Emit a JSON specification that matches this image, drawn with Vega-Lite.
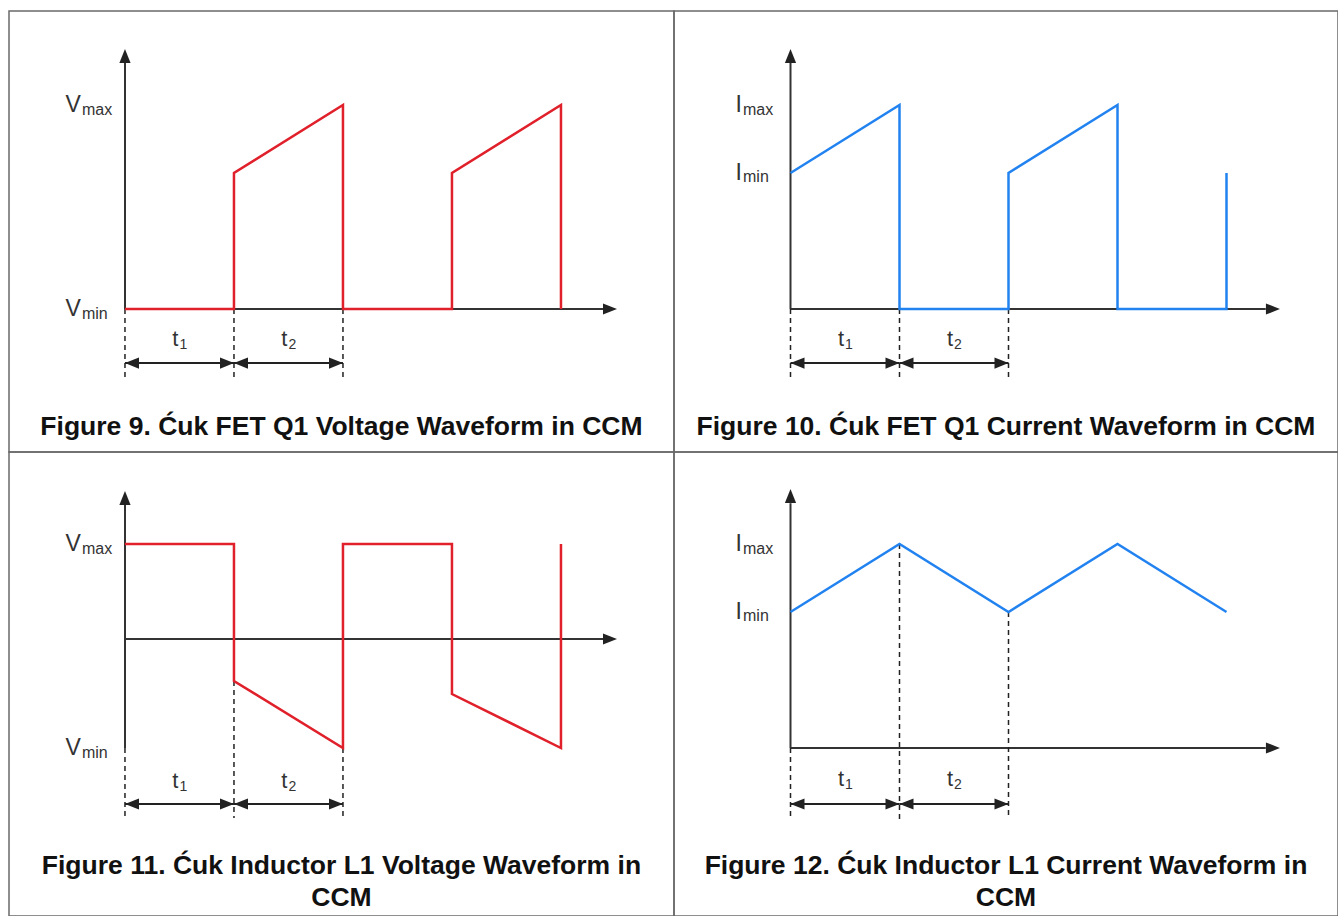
{
  "$schema": "https://vega.github.io/schema/vega-lite/v6.json",
  "padding": {"left": 8, "top": 10, "right": 0, "bottom": 0},
  "background": "white",
  "config": {"view": {"stroke": "#6a6a6a", "strokeWidth": 1.5}, "text": {"font": "Liberation Sans"}},
  "columns": 2,
  "spacing": 0,
  "bounds": "flush",
  "concat": [
        {
          "width": 665, "height": 441,
          "encoding": {
            "x": {"field": "t", "type": "quantitative", "axis": null, "scale": {"domain": [-1.064, 5.037], "nice": false, "zero": false}},
            "y": {"field": "v", "type": "quantitative", "axis": null, "scale": {"domain": [-0.701, 1.461], "nice": false, "zero": false}}
          },
          "layer": [
            {"data": {"values": [{"t": 0, "v": 0, "t2": 0, "v2": 1.21}, {"t": 0, "v": 0, "t2": 4.4, "v2": 0}]},
             "mark": {"type": "rule", "color": "#333333", "strokeWidth": 2},
             "encoding": {"x2": {"field": "t2"}, "y2": {"field": "v2"}}},
            {"data": {"values": [{"t": 0, "v": 0, "v2": -0.343}, {"t": 1, "v": 0, "v2": -0.343}, {"t": 2, "v": 0, "v2": -0.343}]},
             "mark": {"type": "rule", "color": "#222222", "strokeWidth": 1.5, "strokeDash": [5, 4]},
             "encoding": {"y2": {"field": "v2"}}},
            {"data": {"values": [{"t": 0, "t2": 1, "v": -0.265}, {"t": 1, "t2": 2, "v": -0.265}]},
             "mark": {"type": "rule", "color": "#222222", "strokeWidth": 2},
             "encoding": {"x2": {"field": "t2"}}},
            {"data": {"values": [{"t": 0, "v": 1.275}]},
             "mark": {"type": "point", "shape": "M0,0L-0.4,1L0.4,1Z", "size": 784, "filled": true, "opacity": 1, "color": "#222222", "strokeWidth": 0}},
            {"data": {"values": [{"t": 4.514, "v": 0}, {"t": 1, "v": -0.265}, {"t": 2, "v": -0.265}]},
             "mark": {"type": "point", "shape": "M0,0L-1,-0.4L-1,0.4Z", "size": 784, "filled": true, "opacity": 1, "color": "#222222", "strokeWidth": 0}},
            {"data": {"values": [{"t": 0, "v": -0.265}, {"t": 1, "v": -0.265}]},
             "mark": {"type": "point", "shape": "M0,0L1,-0.4L1,0.4Z", "size": 784, "filled": true, "opacity": 1, "color": "#222222", "strokeWidth": 0}},
            {"data": {"values": [{"t": 0, "v": -0.181, "lab": "t", "sub": "1"}, {"t": 1, "v": -0.181, "lab": "t", "sub": "2"}]},
             "layer": [
               {"mark": {"type": "text", "align": "right", "baseline": "alphabetic", "dx": 53.5, "fontSize": 22, "color": "#333333"}, "encoding": {"text": {"field": "lab"}}},
               {"mark": {"type": "text", "align": "left", "baseline": "alphabetic", "dx": 54.5, "dy": 3, "fontSize": 14, "color": "#333333"}, "encoding": {"text": {"field": "sub"}}}
             ]},
            {"data": {"values": [
              {"i": 0, "t": 0, "v": 0}, {"i": 1, "t": 1, "v": 0}, {"i": 2, "t": 1, "v": 0.667}, {"i": 3, "t": 2, "v": 1}, {"i": 4, "t": 2, "v": 0},
              {"i": 5, "t": 3, "v": 0}, {"i": 6, "t": 3, "v": 0.667}, {"i": 7, "t": 4, "v": 1}, {"i": 8, "t": 4, "v": 0}]},
             "mark": {"type": "line", "color": "#e0202a", "strokeWidth": 2.5},
             "encoding": {"order": {"field": "i"}}},
            {"data": {"values": [{"t": -0.404, "v": 1, "lab": "V", "sub": "max"}, {"t": -0.404, "v": 0, "lab": "V", "sub": "min"}]},
             "layer": [
               {"mark": {"type": "text", "align": "right", "baseline": "alphabetic", "dy": 7, "fontSize": 23, "color": "#333333"}, "encoding": {"text": {"field": "lab"}}},
               {"mark": {"type": "text", "align": "left", "baseline": "alphabetic", "dx": 1, "dy": 9.5, "fontSize": 16, "color": "#333333"}, "encoding": {"text": {"field": "sub"}}}
             ]},
            {"data": {"values": [{"t": 1.986, "v": -0.6176, "cap": "Figure 9. Ćuk FET Q1 Voltage Waveform in CCM"}]},
             "mark": {"type": "text", "align": "center", "baseline": "alphabetic", "fontSize": 26.5, "fontWeight": "bold", "color": "#111111"},
             "encoding": {"text": {"field": "cap"}}}
          ]
        },
        {
          "width": 664, "height": 441,
          "encoding": {
            "x": {"field": "t", "type": "quantitative", "axis": null, "scale": {"domain": [-1.0688, 5.0229], "nice": false, "zero": false}},
            "y": {"field": "v", "type": "quantitative", "axis": null, "scale": {"domain": [-0.701, 1.461], "nice": false, "zero": false}}
          },
          "layer": [
            {"data": {"values": [{"t": 0, "v": 0, "t2": 0, "v2": 1.21}, {"t": 0, "v": 0, "t2": 4.36, "v2": 0}]},
             "mark": {"type": "rule", "color": "#333333", "strokeWidth": 2},
             "encoding": {"x2": {"field": "t2"}, "y2": {"field": "v2"}}},
            {"data": {"values": [{"t": 0, "v": 0, "v2": -0.343}, {"t": 1, "v": 0, "v2": -0.343}, {"t": 2, "v": 0, "v2": -0.343}]},
             "mark": {"type": "rule", "color": "#222222", "strokeWidth": 1.5, "strokeDash": [5, 4]},
             "encoding": {"y2": {"field": "v2"}}},
            {"data": {"values": [{"t": 0, "t2": 1, "v": -0.265}, {"t": 1, "t2": 2, "v": -0.265}]},
             "mark": {"type": "rule", "color": "#222222", "strokeWidth": 2},
             "encoding": {"x2": {"field": "t2"}}},
            {"data": {"values": [{"t": 0, "v": 1.275}]},
             "mark": {"type": "point", "shape": "M0,0L-0.4,1L0.4,1Z", "size": 784, "filled": true, "opacity": 1, "color": "#222222", "strokeWidth": 0}},
            {"data": {"values": [{"t": 4.49, "v": 0}, {"t": 1, "v": -0.265}, {"t": 2, "v": -0.265}]},
             "mark": {"type": "point", "shape": "M0,0L-1,-0.4L-1,0.4Z", "size": 784, "filled": true, "opacity": 1, "color": "#222222", "strokeWidth": 0}},
            {"data": {"values": [{"t": 0, "v": -0.265}, {"t": 1, "v": -0.265}]},
             "mark": {"type": "point", "shape": "M0,0L1,-0.4L1,0.4Z", "size": 784, "filled": true, "opacity": 1, "color": "#222222", "strokeWidth": 0}},
            {"data": {"values": [{"t": 0, "v": -0.181, "lab": "t", "sub": "1"}, {"t": 1, "v": -0.181, "lab": "t", "sub": "2"}]},
             "layer": [
               {"mark": {"type": "text", "align": "right", "baseline": "alphabetic", "dx": 53.5, "fontSize": 22, "color": "#333333"}, "encoding": {"text": {"field": "lab"}}},
               {"mark": {"type": "text", "align": "left", "baseline": "alphabetic", "dx": 54.5, "dy": 3, "fontSize": 14, "color": "#333333"}, "encoding": {"text": {"field": "sub"}}}
             ]},
            {"data": {"values": [
              {"i": 0, "t": 0, "v": 0.667}, {"i": 1, "t": 1, "v": 1}, {"i": 2, "t": 1, "v": 0}, {"i": 3, "t": 2, "v": 0}, {"i": 4, "t": 2, "v": 0.667},
              {"i": 5, "t": 3, "v": 1}, {"i": 6, "t": 3, "v": 0}, {"i": 7, "t": 4, "v": 0}, {"i": 8, "t": 4, "v": 0.667}]},
             "mark": {"type": "line", "color": "#2283f0", "strokeWidth": 2.5},
             "encoding": {"order": {"field": "i"}}},
            {"data": {"values": [{"t": -0.445, "v": 1, "lab": "I", "sub": "max"}, {"t": -0.445, "v": 0.667, "lab": "I", "sub": "min"}]},
             "layer": [
               {"mark": {"type": "text", "align": "right", "baseline": "alphabetic", "dy": 7, "fontSize": 23, "color": "#333333"}, "encoding": {"text": {"field": "lab"}}},
               {"mark": {"type": "text", "align": "left", "baseline": "alphabetic", "dx": 1, "dy": 9.5, "fontSize": 16, "color": "#333333"}, "encoding": {"text": {"field": "sub"}}}
             ]},
            {"data": {"values": [{"t": 1.977, "v": -0.6176, "cap": "Figure 10. Ćuk FET Q1 Current Waveform in CCM"}]},
             "mark": {"type": "text", "align": "center", "baseline": "alphabetic", "fontSize": 26.5, "fontWeight": "bold", "color": "#111111"},
             "encoding": {"text": {"field": "cap"}}}
          ]
        },
        {
          "width": 665, "height": 464,
          "encoding": {
            "x": {"field": "t", "type": "quantitative", "axis": null, "scale": {"domain": [-1.064, 5.037], "nice": false, "zero": false}},
            "y": {"field": "v", "type": "quantitative", "axis": null, "scale": {"domain": [-2.77, 1.87], "nice": false, "zero": false}}
          },
          "layer": [
            {"data": {"values": [{"t": 0, "v": -1.09, "t2": 0, "v2": 1.34}, {"t": 0, "v": 0, "t2": 4.4, "v2": 0}]},
             "mark": {"type": "rule", "color": "#333333", "strokeWidth": 2},
             "encoding": {"x2": {"field": "t2"}, "y2": {"field": "v2"}}},
            {"data": {"values": [{"t": 0, "v": -1.09, "v2": -1.79}, {"t": 1, "v": -0.42, "v2": -1.79}, {"t": 2, "v": -1.09, "v2": -1.79}]},
             "mark": {"type": "rule", "color": "#222222", "strokeWidth": 1.5, "strokeDash": [5, 4]},
             "encoding": {"y2": {"field": "v2"}}},
            {"data": {"values": [{"t": 0, "t2": 1, "v": -1.65}, {"t": 1, "t2": 2, "v": -1.65}]},
             "mark": {"type": "rule", "color": "#222222", "strokeWidth": 2},
             "encoding": {"x2": {"field": "t2"}}},
            {"data": {"values": [{"t": 0, "v": 1.48}]},
             "mark": {"type": "point", "shape": "M0,0L-0.4,1L0.4,1Z", "size": 784, "filled": true, "opacity": 1, "color": "#222222", "strokeWidth": 0}},
            {"data": {"values": [{"t": 4.514, "v": 0}, {"t": 1, "v": -1.65}, {"t": 2, "v": -1.65}]},
             "mark": {"type": "point", "shape": "M0,0L-1,-0.4L-1,0.4Z", "size": 784, "filled": true, "opacity": 1, "color": "#222222", "strokeWidth": 0}},
            {"data": {"values": [{"t": 0, "v": -1.65}, {"t": 1, "v": -1.65}]},
             "mark": {"type": "point", "shape": "M0,0L1,-0.4L1,0.4Z", "size": 784, "filled": true, "opacity": 1, "color": "#222222", "strokeWidth": 0}},
            {"data": {"values": [{"t": 0, "v": -1.49, "lab": "t", "sub": "1"}, {"t": 1, "v": -1.49, "lab": "t", "sub": "2"}]},
             "layer": [
               {"mark": {"type": "text", "align": "right", "baseline": "alphabetic", "dx": 53.5, "fontSize": 22, "color": "#333333"}, "encoding": {"text": {"field": "lab"}}},
               {"mark": {"type": "text", "align": "left", "baseline": "alphabetic", "dx": 54.5, "dy": 3, "fontSize": 14, "color": "#333333"}, "encoding": {"text": {"field": "sub"}}}
             ]},
            {"data": {"values": [
              {"i": 0, "t": 0, "v": 0.95}, {"i": 1, "t": 1, "v": 0.95}, {"i": 2, "t": 1, "v": -0.42}, {"i": 3, "t": 2, "v": -1.09}, {"i": 4, "t": 2, "v": 0.95},
              {"i": 5, "t": 3, "v": 0.95}, {"i": 6, "t": 3, "v": -0.55}, {"i": 7, "t": 4, "v": -1.09}, {"i": 8, "t": 4, "v": 0.95}]},
             "mark": {"type": "line", "color": "#e0202a", "strokeWidth": 2.5},
             "encoding": {"order": {"field": "i"}}},
            {"data": {"values": [{"t": -0.404, "v": 0.95, "lab": "V", "sub": "max"}, {"t": -0.404, "v": -1.09, "lab": "V", "sub": "min"}]},
             "layer": [
               {"mark": {"type": "text", "align": "right", "baseline": "alphabetic", "dy": 7, "fontSize": 23, "color": "#333333"}, "encoding": {"text": {"field": "lab"}}},
               {"mark": {"type": "text", "align": "left", "baseline": "alphabetic", "dx": 1, "dy": 9.5, "fontSize": 16, "color": "#333333"}, "encoding": {"text": {"field": "sub"}}}
             ]},
            {"data": {"values": [{"t": 1.986, "v": -2.35, "cap": ["Figure 11. Ćuk Inductor L1 Voltage Waveform in", "CCM"]}]},
             "mark": {"type": "text", "align": "center", "baseline": "alphabetic", "fontSize": 26.5, "lineHeight": 32, "fontWeight": "bold", "color": "#111111"},
             "encoding": {"text": {"field": "cap"}}}
          ]
        },
        {
          "width": 664, "height": 464,
          "encoding": {
            "x": {"field": "t", "type": "quantitative", "axis": null, "scale": {"domain": [-1.0688, 5.0229], "nice": false, "zero": false}},
            "y": {"field": "v", "type": "quantitative", "axis": null, "scale": {"domain": [-0.8235, 1.451], "nice": false, "zero": false}}
          },
          "layer": [
            {"data": {"values": [{"t": 0, "v": 0, "t2": 0, "v2": 1.2}, {"t": 0, "v": 0, "t2": 4.36, "v2": 0}]},
             "mark": {"type": "rule", "color": "#333333", "strokeWidth": 2},
             "encoding": {"x2": {"field": "t2"}, "y2": {"field": "v2"}}},
            {"data": {"values": [{"t": 0, "v": 0, "v2": -0.348}, {"t": 1, "v": 1, "v2": -0.348}, {"t": 2, "v": 0.667, "v2": -0.348}]},
             "mark": {"type": "rule", "color": "#222222", "strokeWidth": 1.5, "strokeDash": [5, 4]},
             "encoding": {"y2": {"field": "v2"}}},
            {"data": {"values": [{"t": 0, "t2": 1, "v": -0.2745}, {"t": 1, "t2": 2, "v": -0.2745}]},
             "mark": {"type": "rule", "color": "#222222", "strokeWidth": 2},
             "encoding": {"x2": {"field": "t2"}}},
            {"data": {"values": [{"t": 0, "v": 1.27}]},
             "mark": {"type": "point", "shape": "M0,0L-0.4,1L0.4,1Z", "size": 784, "filled": true, "opacity": 1, "color": "#222222", "strokeWidth": 0}},
            {"data": {"values": [{"t": 4.49, "v": 0}, {"t": 1, "v": -0.2745}, {"t": 2, "v": -0.2745}]},
             "mark": {"type": "point", "shape": "M0,0L-1,-0.4L-1,0.4Z", "size": 784, "filled": true, "opacity": 1, "color": "#222222", "strokeWidth": 0}},
            {"data": {"values": [{"t": 0, "v": -0.2745}, {"t": 1, "v": -0.2745}]},
             "mark": {"type": "point", "shape": "M0,0L1,-0.4L1,0.4Z", "size": 784, "filled": true, "opacity": 1, "color": "#222222", "strokeWidth": 0}},
            {"data": {"values": [{"t": 0, "v": -0.186, "lab": "t", "sub": "1"}, {"t": 1, "v": -0.186, "lab": "t", "sub": "2"}]},
             "layer": [
               {"mark": {"type": "text", "align": "right", "baseline": "alphabetic", "dx": 53.5, "fontSize": 22, "color": "#333333"}, "encoding": {"text": {"field": "lab"}}},
               {"mark": {"type": "text", "align": "left", "baseline": "alphabetic", "dx": 54.5, "dy": 3, "fontSize": 14, "color": "#333333"}, "encoding": {"text": {"field": "sub"}}}
             ]},
            {"data": {"values": [
              {"i": 0, "t": 0, "v": 0.667}, {"i": 1, "t": 1, "v": 1}, {"i": 2, "t": 2, "v": 0.667}, {"i": 3, "t": 3, "v": 1}, {"i": 4, "t": 4, "v": 0.667}]},
             "mark": {"type": "line", "color": "#2283f0", "strokeWidth": 2.5},
             "encoding": {"order": {"field": "i"}}},
            {"data": {"values": [{"t": -0.445, "v": 1, "lab": "I", "sub": "max"}, {"t": -0.445, "v": 0.667, "lab": "I", "sub": "min"}]},
             "layer": [
               {"mark": {"type": "text", "align": "right", "baseline": "alphabetic", "dy": 7, "fontSize": 23, "color": "#333333"}, "encoding": {"text": {"field": "lab"}}},
               {"mark": {"type": "text", "align": "left", "baseline": "alphabetic", "dx": 1, "dy": 9.5, "fontSize": 16, "color": "#333333"}, "encoding": {"text": {"field": "sub"}}}
             ]},
            {"data": {"values": [{"t": 1.977, "v": -0.6176, "cap": ["Figure 12. Ćuk Inductor L1 Current Waveform in", "CCM"]}]},
             "mark": {"type": "text", "align": "center", "baseline": "alphabetic", "fontSize": 26.5, "lineHeight": 32, "fontWeight": "bold", "color": "#111111"},
             "encoding": {"text": {"field": "cap"}}}
          ]
        }
  ]
}
